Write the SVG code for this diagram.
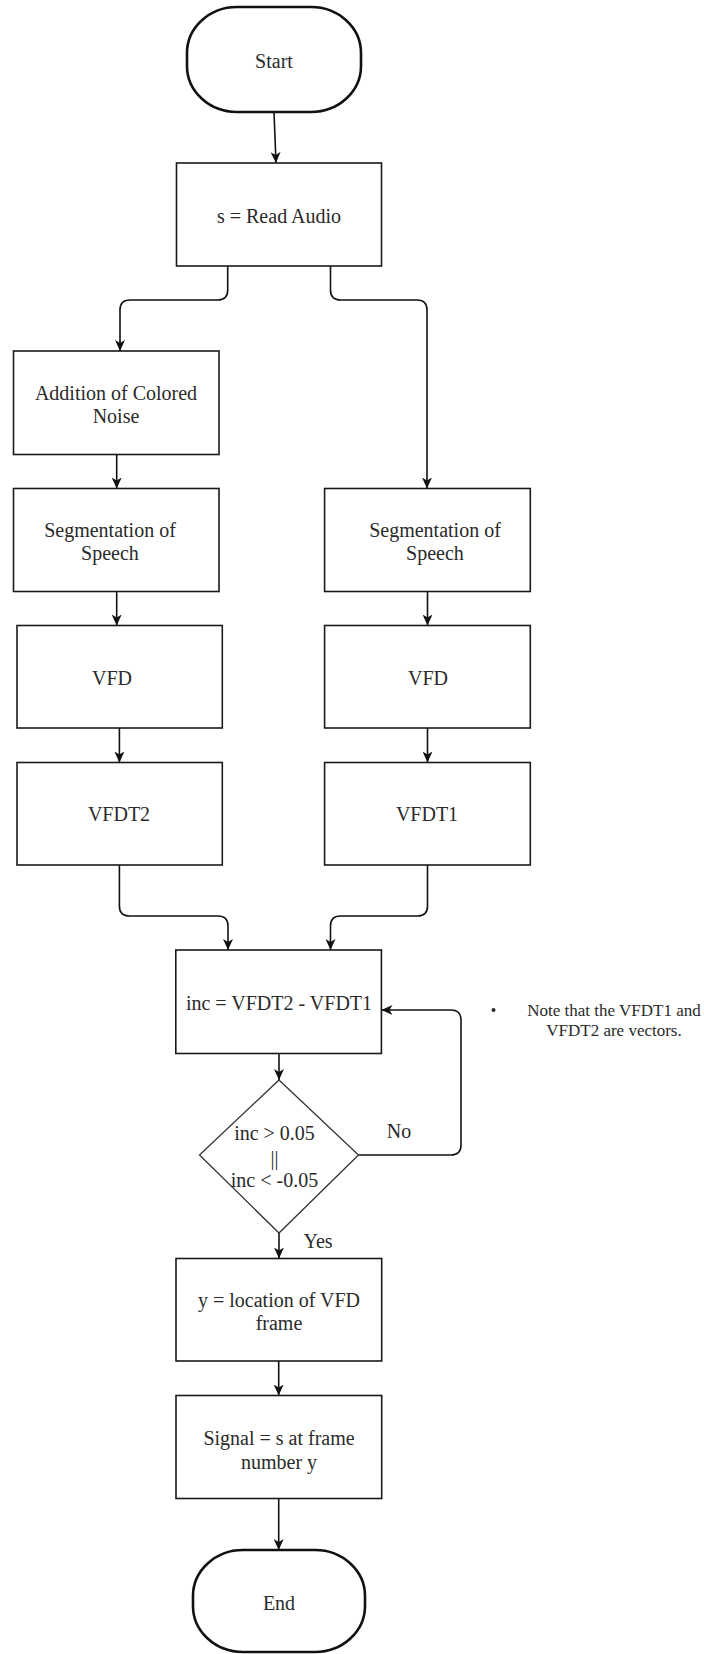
<svg xmlns="http://www.w3.org/2000/svg" width="704" height="1654" viewBox="0 0 704 1654">
  <style>
    .box { fill: #ffffff; stroke: #1a1a1a; stroke-width: 1.6; }
    .term { fill: #ffffff; stroke: #111111; stroke-width: 2.6; }
    .dec { fill: #ffffff; stroke: #333333; stroke-width: 1.3; }
    .lbl { font-family: "Liberation Serif", "Times New Roman", serif; font-size: 20px; fill: #2a2a2a; text-anchor: middle; dominant-baseline: central; }
    .note { font-family: "Liberation Serif", "Times New Roman", serif; font-size: 17px; fill: #2a2a2a; text-anchor: middle; dominant-baseline: central; }
    .edge { fill: none; stroke: #111111; stroke-width: 1.6; }
  </style>
  <defs>
    <marker id="arrow" viewBox="0 0 11 10" refX="11" refY="5" markerWidth="11" markerHeight="10" markerUnits="userSpaceOnUse" orient="auto">
      <path d="M0,0 L11,5 L0,10 L3,5 Z" fill="#111111"/>
    </marker>
  </defs>

  <rect width="704" height="1654" fill="#ffffff"/>

  <!-- connectors -->
  <g id="connectors">
    <path class="edge" d="M274 112 L276 163" marker-end="url(#arrow)"/>
    <path class="edge" d="M227.7 266 V290 Q227.7 300 217.7 300 H130 Q120 300 120 310 V351" marker-end="url(#arrow)"/>
    <path class="edge" d="M330.5 266 V290 Q330.5 300 340.5 300 H417 Q427 300 427 310 V488.5" marker-end="url(#arrow)"/>
    <path class="edge" d="M116.7 454.5 V488.5" marker-end="url(#arrow)"/>
    <path class="edge" d="M116.7 591.5 V625.5" marker-end="url(#arrow)"/>
    <path class="edge" d="M119.4 728 V762.5" marker-end="url(#arrow)"/>
    <path class="edge" d="M427.5 591.5 V625.5" marker-end="url(#arrow)"/>
    <path class="edge" d="M427.5 728 V762.5" marker-end="url(#arrow)"/>
    <path class="edge" d="M119.4 865 V906 Q119.4 916 129.4 916 H218 Q228 916 228 926 V950" marker-end="url(#arrow)"/>
    <path class="edge" d="M427.5 865 V906 Q427.5 916 417.5 916 H340.5 Q330.5 916 330.5 926 V950" marker-end="url(#arrow)"/>
    <path class="edge" d="M279 1053.5 V1080" marker-end="url(#arrow)"/>
    <path class="edge" d="M358.5 1155 H451 Q461 1155 461 1145 V1020 Q461 1010 451 1010 H381.5" marker-end="url(#arrow)"/>
    <path class="edge" d="M279 1233 V1258.5" marker-end="url(#arrow)"/>
    <path class="edge" d="M278.7 1361 V1395.5" marker-end="url(#arrow)"/>
    <path class="edge" d="M278.7 1498.5 V1550" marker-end="url(#arrow)"/>
    <text class="lbl" x="399" y="1131">No</text>
    <text class="lbl" x="318" y="1241">Yes</text>
  </g>

  <!-- nodes -->
  <g id="start">
    <rect class="term" x="187" y="7" width="174" height="105" rx="50" ry="46"/>
    <text class="lbl" x="274" y="61">Start</text>
  </g>
  <g id="read-audio">
    <rect class="box" x="176.5" y="163" width="205" height="103"/>
    <text class="lbl" x="279" y="216">s = Read Audio</text>
  </g>
  <g id="add-noise">
    <rect class="box" x="13.5" y="351" width="205.5" height="103.5"/>
    <text class="lbl" x="116" y="392.5">Addition of Colored</text>
    <text class="lbl" x="116" y="415.5">Noise</text>
  </g>
  <g id="seg-left">
    <rect class="box" x="13.5" y="488.5" width="205.5" height="103"/>
    <text class="lbl" x="110" y="529.5">Segmentation of</text>
    <text class="lbl" x="110" y="552.5">Speech</text>
  </g>
  <g id="seg-right">
    <rect class="box" x="324.6" y="488.5" width="205.7" height="103"/>
    <text class="lbl" x="435" y="529.5">Segmentation of</text>
    <text class="lbl" x="435" y="552.5">Speech</text>
  </g>
  <g id="vfd-left">
    <rect class="box" x="17" y="625.5" width="205.3" height="102.5"/>
    <text class="lbl" x="112" y="677.5">VFD</text>
  </g>
  <g id="vfd-right">
    <rect class="box" x="324.6" y="625.5" width="205.7" height="102.5"/>
    <text class="lbl" x="428" y="677.5">VFD</text>
  </g>
  <g id="vfdt2">
    <rect class="box" x="17" y="762.5" width="205.3" height="102.5"/>
    <text class="lbl" x="119" y="814">VFDT2</text>
  </g>
  <g id="vfdt1">
    <rect class="box" x="324.6" y="762.5" width="205.7" height="102.5"/>
    <text class="lbl" x="427" y="814">VFDT1</text>
  </g>
  <g id="inc">
    <rect class="box" x="175.8" y="950" width="205.6" height="103.5"/>
    <text class="lbl" x="279" y="1003">inc = VFDT2 - VFDT1</text>
  </g>
  <g id="decision">
    <polygon class="dec" points="279,1080 358.5,1155 279,1233 199.5,1155"/>
    <text class="lbl" x="274.5" y="1133">inc &gt; 0.05</text>
    <text class="lbl" x="274.5" y="1158">||</text>
    <text class="lbl" x="274.5" y="1180">inc &lt; -0.05</text>
  </g>
  <g id="location">
    <rect class="box" x="176" y="1258.5" width="205.7" height="102.5"/>
    <text class="lbl" x="279" y="1299.5">y = location of VFD</text>
    <text class="lbl" x="279" y="1322.5">frame</text>
  </g>
  <g id="signal">
    <rect class="box" x="176" y="1395.5" width="205.7" height="103"/>
    <text class="lbl" x="279" y="1438">Signal = s at frame</text>
    <text class="lbl" x="279" y="1461.5">number y</text>
  </g>
  <g id="end">
    <rect class="term" x="193" y="1550" width="172" height="102" rx="50" ry="46"/>
    <text class="lbl" x="279" y="1602.5">End</text>
  </g>
  <g id="note">
    <circle cx="493.5" cy="1010" r="2" fill="#2a2a2a"/>
    <text class="note" x="614" y="1010">Note that the VFDT1 and</text>
    <text class="note" x="614" y="1030">VFDT2 are vectors.</text>
  </g>
</svg>
